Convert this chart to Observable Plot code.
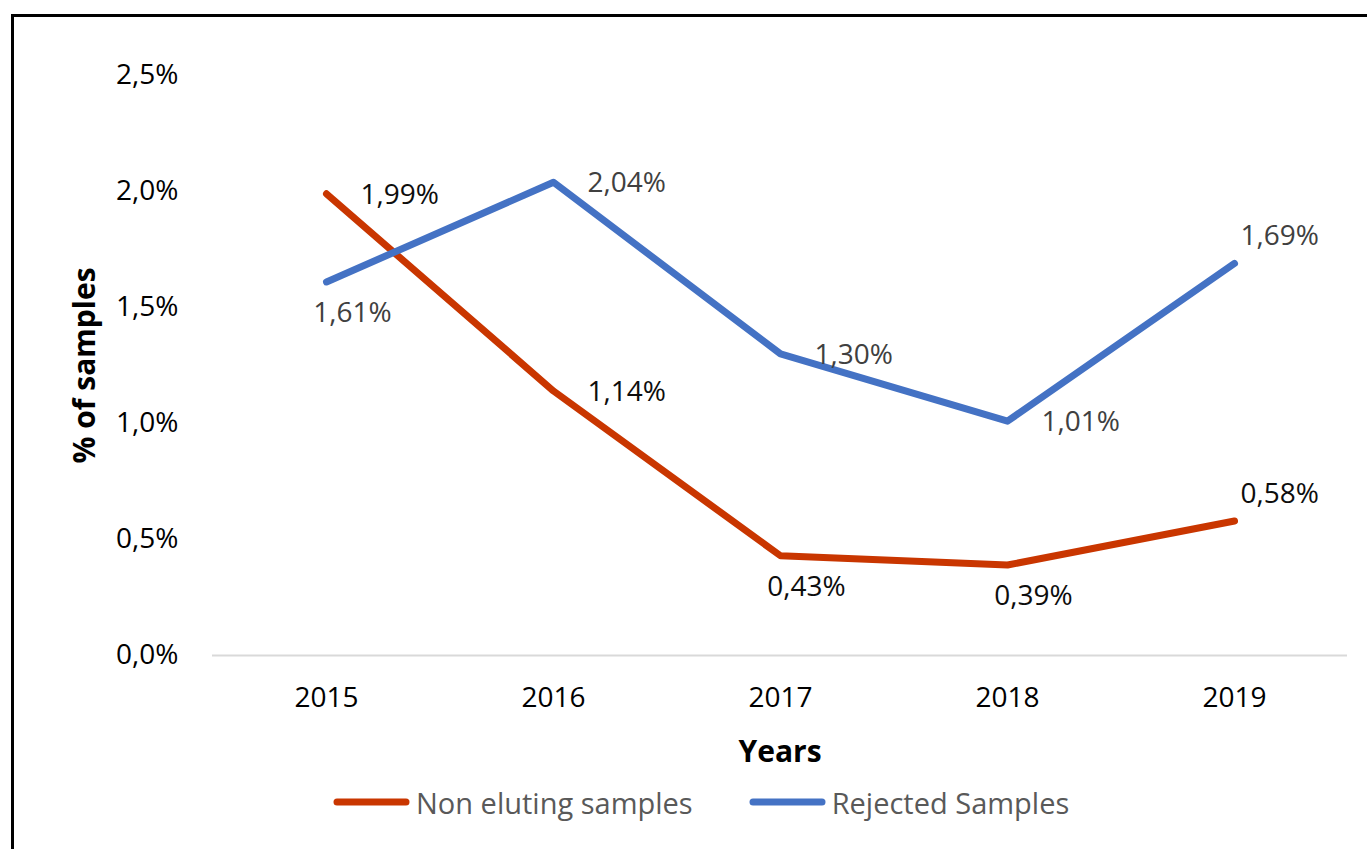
<!DOCTYPE html>
<html>
<head>
<meta charset="utf-8">
<script src="https://cdn.jsdelivr.net/npm/d3@7"></script>
<script src="https://cdn.jsdelivr.net/npm/@observablehq/plot@0.6"></script>
<style>
  html, body { margin: 0; padding: 0; background: #fff; width: 1367px; height: 849px; overflow: hidden; }
  #frame { position: absolute; left: 11px; top: 14px; width: 1400px; height: 900px; border: 3px solid #000; box-sizing: border-box; }
  #chart { position: absolute; left: 0; top: 0; }
  #legend { position: absolute; left: 333px; top: 784px; height: 36px; display: flex; align-items: center;
            font-family: "Open Sans", sans-serif; font-size: 29px; color: #595959; white-space: nowrap; }
  .item { display: flex; align-items: center; }
  .item span { margin-left: 6px; }
</style>
</head>
<body>
<div id="frame"></div>
<div id="chart"></div>
<div id="legend"></div>
<script>
const years = ["2015", "2016", "2017", "2018", "2019"];
const nonEluting = [1.99, 1.14, 0.43, 0.39, 0.58];
const rejected = [1.61, 2.04, 1.30, 1.01, 1.69];
const yTicks = [0, 0.5, 1.0, 1.5, 2.0, 2.5];
const seriesNames = ["Non eluting samples", "Rejected Samples"];
const nonElutingLabelPos = ["right", "right", "below", "below", "above"];
const rejectedLabelPos = ["below", "right", "right", "right", "above"];

const colors = {"Non eluting samples": "#c93600", "Rejected Samples": "#4472c4"};
const labelColors = {"Non eluting samples": "#0d0d0d", "Rejected Samples": "#404040"};

const data = [];
years.forEach((yr, i) => {
  data.push({year: yr, value: nonEluting[i], series: seriesNames[0], pos: nonElutingLabelPos[i]});
});
years.forEach((yr, i) => {
  data.push({year: yr, value: rejected[i], series: seriesNames[1], pos: rejectedLabelPos[i]});
});

const fmtLabel = v => v.toFixed(2).replace(".", ",") + "%";
const fmtTick = v => v.toFixed(1).replace(".", ",") + "%";

const labelMark = (pos, opts) => Plot.text(data.filter(d => d.pos === pos), {
  x: "year", y: "value", text: d => fmtLabel(d.value),
  fill: d => labelColors[d.series], fontSize: 28, ...opts
});

const chart = Plot.plot({
  width: 1367,
  height: 775,
  marginLeft: 212,
  marginRight: 20,
  marginTop: 75,
  marginBottom: 120,
  style: {fontFamily: "Open Sans, sans-serif", fontSize: "28px", color: "#000", background: "transparent"},
  x: {type: "point", domain: years, padding: 0.5},
  y: {domain: [0, 2.5]},
  marks: [
    Plot.ruleY([0], {stroke: "#d9d9d9", strokeWidth: 2}),
    Plot.line(data.filter(d => d.series === seriesNames[0]), {x: "year", y: "value", stroke: colors[seriesNames[0]], strokeWidth: 7, strokeLinecap: "round", strokeLinejoin: "round"}),
    Plot.line(data.filter(d => d.series === seriesNames[1]), {x: "year", y: "value", stroke: colors[seriesNames[1]], strokeWidth: 7, strokeLinecap: "round", strokeLinejoin: "round"}),
    labelMark("right", {textAnchor: "start", dx: 34, dy: 1}),
    labelMark("below", {textAnchor: "middle", dx: 26, dy: 31}),
    labelMark("above", {textAnchor: "start", dx: 6, dy: -27}),
    Plot.axisY({ticks: yTicks, tickSize: 0, tickPadding: 34, tickFormat: fmtTick, fontSize: 28, label: null}),
    Plot.axisX({tickSize: 0, tickPadding: 32, fontSize: 28, label: null}),
    Plot.text(["% of samples"], {frameAnchor: "left", rotate: -90, dx: -127, textAnchor: "middle", lineAnchor: "middle", fontSize: 30, fontWeight: "bold", fill: "#000"}),
    Plot.text(["Years"], {frameAnchor: "bottom", dy: 97, textAnchor: "middle", lineAnchor: "middle", fontSize: 30, fontWeight: "bold", fill: "#000"})
  ]
});
document.getElementById("chart").appendChild(chart);

const legend = document.getElementById("legend");
seriesNames.forEach((name, i) => {
  const item = document.createElement("div");
  item.className = "item";
  if (i > 0) item.style.marginLeft = "56px";
  item.innerHTML = `<svg width="77" height="12"><line x1="4" y1="6" x2="73" y2="6" stroke="${colors[name]}" stroke-width="7" stroke-linecap="round"/></svg><span>${name}</span>`;
  legend.appendChild(item);
});
</script>
</body>
</html>
